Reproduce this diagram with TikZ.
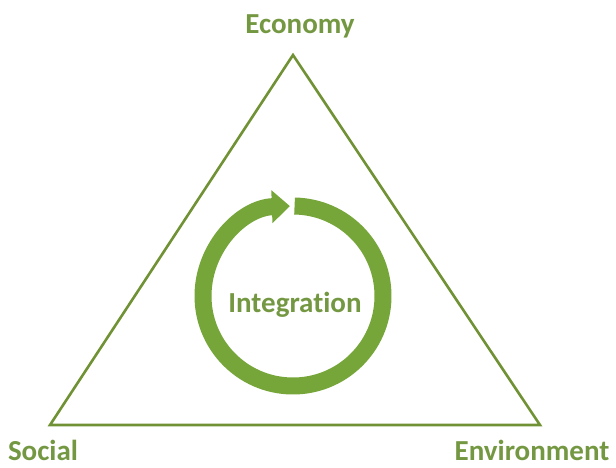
\documentclass[tikz,border=0pt]{standalone}
\usepackage{fontspec}
\setmainfont{Carlito}[Ligatures=NoCommon]
\usetikzlibrary{arrows.meta}
\definecolor{leaf}{RGB}{118,166,58}
\definecolor{oliveD}{RGB}{112,146,52}
\definecolor{txtG}{RGB}{116,152,66}
\tikzset{
  edge/.style={oliveD, line width=2.6pt, line join=miter},
  ring/.style={leaf, line width=17pt, -{Triangle[length=18pt, width=32pt]}},
  lbl/.style={txtG, font=\fontsize{29}{34}\selectfont\bfseries, inner sep=0pt, anchor=base},
}

\begin{document}
\begin{tikzpicture}[x=1pt, y=1pt]
  \path[fill=white] (0,0) rectangle (616,467);
  \useasboundingbox (0,0) rectangle (616,467);
  % corners of the triangle
  \coordinate (eco) at (293,412);
  \coordinate (soc) at (50,42);
  \coordinate (env) at (540,42);
  \draw[edge] (eco) -- (env) -- (soc) -- cycle;
  % corner labels
  \node[lbl] (ecoT) at (300,433) {Economy};
  \node[lbl] (socT) at (43,7) {Social};
  \node[lbl] (envT) at (532,7) {Environment};
  % cycle in the middle
  \coordinate (mid) at (293,171);
  \draw[ring] (mid) ++(89:90pt) arc[start angle=89, end angle=-268, radius=90pt];
  \node[lbl] (integ) at (295,155) {Integration};
\end{tikzpicture}
\end{document}
